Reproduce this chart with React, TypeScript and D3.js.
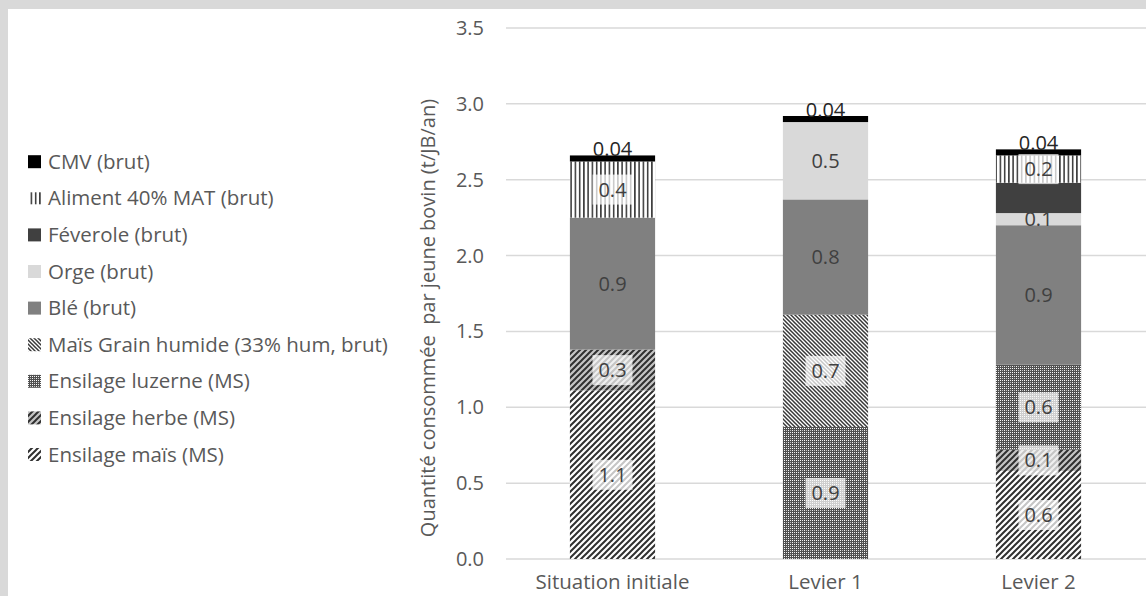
import React from "react";
import * as d3 from "d3";

const categories = ["Situation initiale", "Levier 1", "Levier 2"];
const seriesKeys = ["mais", "herbe", "luzerne", "mgh", "ble", "orge", "feverole", "aliment", "cmv"];
const seriesNames = [
  "Ensilage maïs (MS)",
  "Ensilage herbe (MS)",
  "Ensilage luzerne (MS)",
  "Maïs Grain humide (33% hum, brut)",
  "Blé (brut)",
  "Orge (brut)",
  "Féverole (brut)",
  "Aliment 40% MAT (brut)",
  "CMV (brut)",
];
const ensilageMais = [1.11, 0, 0.58];
const ensilageHerbe = [0.27, 0, 0.14];
const ensilageLuzerne = [0, 0.87, 0.56];
const maisGrainHumide = [0, 0.74, 0];
const ble = [0.87, 0.76, 0.92];
const orge = [0, 0.51, 0.08];
const feverole = [0, 0, 0.2];
const aliment = [0.37, 0, 0.18];
const cmv = [0.04, 0.04, 0.04];
const yTicks = [0, 0.5, 1.0, 1.5, 2.0, 2.5, 3.0, 3.5];

const seriesValues = [ensilageMais, ensilageHerbe, ensilageLuzerne, maisGrainHumide, ble, orge, feverole, aliment, cmv];

const fills: Record<string, string> = {
  mais: "url(#pMais)",
  herbe: "url(#pHerbe)",
  luzerne: "url(#pLuz)",
  mgh: "url(#pMgh)",
  ble: "#808080",
  orge: "#d9d9d9",
  feverole: "#404040",
  aliment: "url(#pAli)",
  cmv: "#000000",
};
const patterned = new Set(["mais", "herbe", "luzerne", "mgh", "aliment"]);

const FONT = "'Open Sans', 'Noto Sans', sans-serif";
const TEXT = "#595959";

export default function App() {
  const W = 1146, H = 596;
  const rows = categories.map((c, i) => {
    const r: any = { cat: c };
    seriesKeys.forEach((k, j) => (r[k] = seriesValues[j][i]));
    return r;
  });
  const stacked = d3.stack().keys(seriesKeys)(rows);
  const x = d3.scaleBand().domain(categories).range([506, 1145]).paddingInner(0.6).paddingOuter(0.3);
  const y = d3.scaleLinear().domain([0, 3.5]).range([559, 28]);
  const fmt1 = d3.format(".1f");
  const fmt2 = d3.format(".2f");

  const legendOrder = [...seriesKeys].reverse();

  return (
    <div style={{ position: "absolute", left: 0, top: 0 }}>
      <svg width={W} height={H} style={{ display: "block", fontFamily: FONT }}>
        <defs>
          <pattern id="pMais" patternUnits="userSpaceOnUse" width={6} height={6}>
            <rect width={6} height={6} fill="#ffffff" />
            <path d="M-1,7 L7,-1 M-4,4 L4,-4 M2,10 L10,2" stroke="#303030" strokeWidth={2} />
          </pattern>
          <pattern id="pHerbe" patternUnits="userSpaceOnUse" width={6} height={6}>
            <rect width={6} height={6} fill="#c4c4c4" />
            <path d="M-1,7 L7,-1 M-4,4 L4,-4 M2,10 L10,2" stroke="#303030" strokeWidth={2} />
          </pattern>
          <pattern id="pMgh" patternUnits="userSpaceOnUse" width={4} height={4}>
            <rect width={4} height={4} fill="#ffffff" />
            <path d="M-1,-1 L5,5 M-3,1 L1,5 M3,-1 L5,1" stroke="#383838" strokeWidth={1.5} />
          </pattern>
          <pattern id="pLuz" patternUnits="userSpaceOnUse" width={4} height={4}>
            <rect width={4} height={4} fill="#505050" />
            <rect x={0} y={0} width={1} height={1} fill="#ffffff" />
            <rect x={2} y={0} width={1} height={1} fill="#f0f0f0" />
            <rect x={0} y={2} width={1} height={1} fill="#f0f0f0" />
            <rect x={2} y={2} width={1} height={1} fill="#c0c0c0" />
          </pattern>
          <pattern id="pAli" patternUnits="userSpaceOnUse" width={4.25} height={10}>
            <rect width={4.25} height={10} fill="#ffffff" />
            <rect x={1} y={0} width={1.3} height={10} fill="#111111" />
          </pattern>
        </defs>
        <rect width={W} height={H} fill="#ffffff" />
        <rect x={0} y={0} width={W} height={9} fill="#d9d9d9" />
        <rect x={0} y={0} width={8} height={H} fill="#d9d9d9" />

        {/* gridlines */}
        {yTicks.map((t) => (
          <line key={t} x1={506} x2={1146} y1={y(t)} y2={y(t)} stroke="#d9d9d9" strokeWidth={1.5} />
        ))}
        {yTicks.map((t) => (
          <text key={"t" + t} x={484} y={y(t)} dy="0.35em" textAnchor="end" fontSize={20} fill={TEXT}>
            {fmt1(t)}
          </text>
        ))}
        <text
          transform={`translate(428,318) rotate(-90)`}
          textAnchor="middle"
          dy="0.35em"
          fontSize={20}
          fill={TEXT}
          style={{ whiteSpace: "pre" }}
        >
          {"Quantité consommée  par jeune bovin (t/JB/an)"}
        </text>

        {/* bars */}
        {stacked.map((s) =>
          s.map((d, i) => {
            const v = d[1] - d[0];
            if (v <= 0) return null;
            return (
              <rect
                key={s.key + i}
                x={x(categories[i])}
                width={x.bandwidth()}
                y={y(d[1])}
                height={y(d[0]) - y(d[1])}
                fill={fills[s.key]}
              />
            );
          })
        )}

        {/* labels */}
        {stacked.map((s) =>
          s.map((d, i) => {
            const v = d[1] - d[0];
            if (v <= 0) return null;
            const cx = (x(categories[i]) as number) + x.bandwidth() / 2;
            if (s.key === "cmv") {
              return (
                <text key={"l" + s.key + i} x={cx} y={y(d[1]) + 1} textAnchor="middle" fontSize={20} fill="#262626">
                  {fmt2(v)}
                </text>
              );
            }
            const cy = (y(d[0]) + y(d[1])) / 2;
            return (
              <g key={"l" + s.key + i}>
                {patterned.has(s.key) && (
                  <rect x={cx - 20} y={cy - 15} width={40} height={30} fill="#ffffff" opacity={0.72} />
                )}
                <text x={cx} y={cy} dy="0.35em" textAnchor="middle" fontSize={20} fill="#404040">
                  {fmt1(v)}
                </text>
              </g>
            );
          })
        )}

        {/* category labels */}
        {categories.map((c) => (
          <text
            key={c}
            x={(x(c) as number) + x.bandwidth() / 2}
            y={582}
            dy="0.35em"
            textAnchor="middle"
            fontSize={20.5}
            fill={TEXT}
          >
            {c}
          </text>
        ))}

        {/* legend */}
        {legendOrder.map((k, i) => {
          const cy = 161.7 + i * 36.6;
          const name = seriesNames[seriesKeys.indexOf(k)];
          return (
            <g key={"lg" + k}>
              {k === "aliment" ? (
                <rect x={28} y={cy - 6} width={13} height={12} fill="url(#pAli)" />
              ) : (
                <rect x={28} y={cy - 6.5} width={13} height={13} fill={fills[k]} />
              )}
              <text x={48} y={cy} dy="0.35em" fontSize={20.5} fill={TEXT}>
                {name}
              </text>
            </g>
          );
        })}
      </svg>
    </div>
  );
}
